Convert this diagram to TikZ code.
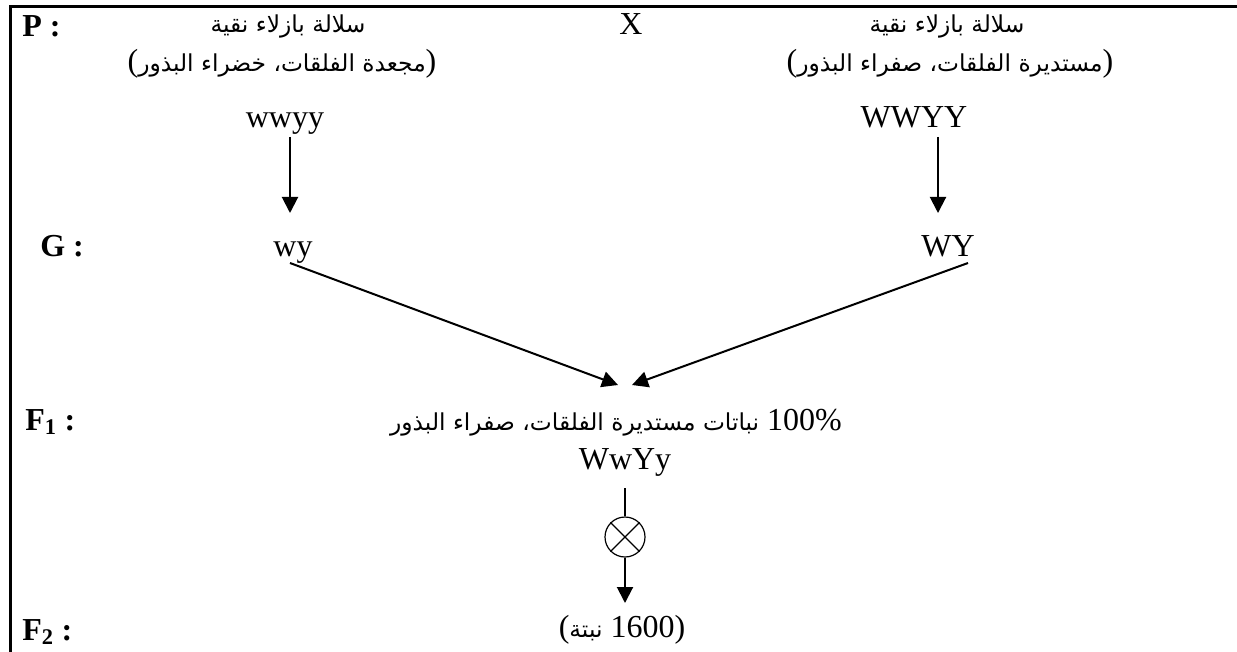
\documentclass[tikz,border=0pt]{standalone}
\usepackage{fontspec}
\setmainfont{Liberation Serif}
\newfontfamily\arabicfont[Script=Arabic]{DejaVu Sans}
\TeXXeTstate=1
\usetikzlibrary{arrows.meta}
\begin{document}
\begin{tikzpicture}[x=0.75pt,y=-0.75pt,
  lat/.style={font=\fontsize{24}{28}\selectfont, inner sep=0pt},
  ar/.style={font=\fontsize{24}{28}\selectfont, inner sep=0pt},
  lab/.style={font=\fontsize{24}{28}\selectfont\bfseries, inner sep=0pt},
  arr/.style={line width=1.5pt, -{Triangle[length=12pt,width=12pt]}},
  thin/.style={line width=0.9pt},
  frame/.style={line width=2.25pt}]
\newcommand\arw[1]{{\arabicfont\fontsize{17.5}{22}\selectfont\beginR #1\endR}}
\useasboundingbox (0,0) rectangle (1237,652);
\coordinate (fb) at (10,652);
\coordinate (fc) at (10,7);
\coordinate (fr) at (1237,7);
\draw[frame] (fb) -- (fc) -- (fr);
% P row
\node[lab, anchor=base west] (P) at (22,37) {P :};
\node[ar, anchor=base] (L1) at (288,33) {\arw{سلالة بازلاء نقية}};
\node[lat, anchor=base] (X) at (631,35) {X};
\node[ar, anchor=base] (R1) at (947,33) {\arw{سلالة بازلاء نقية}};
\node[ar, anchor=base] (L2) at (282,72) {(\arw{مجعدة الفلقات، خضراء البذور})};
\node[ar, anchor=base] (R2) at (950,72) {(\arw{مستديرة الفلقات، صفراء البذور})};
\node[lat, anchor=base] (ww) at (285,128) {wwyy};
\node[lat, anchor=base] (WW) at (914,128) {WWYY};
\coordinate (a1s) at (290,137);
\coordinate (a1e) at (290,213);
\coordinate (a2s) at (938,137);
\coordinate (a2e) at (938,213);
\draw[arr] (a1s) -- (a1e);
\draw[arr] (a2s) -- (a2e);
% G row
\node[lab, anchor=base west] (G) at (40,257) {G :};
\node[lat, anchor=base] (wy) at (293,257) {wy};
\node[lat, anchor=base] (WY) at (948,257) {WY};
\coordinate (d1s) at (290,263);
\coordinate (d1e) at (618,385);
\coordinate (d2s) at (968,263);
\coordinate (d2e) at (632,385);
\draw[arr] (d1s) -- (d1e);
\draw[arr] (d2s) -- (d2e);
% F1 row
\node[lab, anchor=base west] (F1) at (25,430) {F\textsubscript{1} :};
\node[ar, anchor=base] (F1t) at (616,430) {\arw{نباتات مستديرة الفلقات، صفراء البذور} 100\%};
\node[lat, anchor=base] (Ww) at (625,469) {WwYy};
\coordinate (v1) at (625,488);
\node[circle, draw, thin, minimum size=30pt, inner sep=0pt] (ox) at (625,537) {};
\draw[thin] (ox.north west) -- (ox.south east);
\draw[thin] (ox.north east) -- (ox.south west);
\draw[thin] (v1) -- (ox.north);
\coordinate (a3e) at (625,603);
\draw[arr] (ox.south) -- (a3e);
% F2 row
\node[lab, anchor=base west] (F2) at (22,640) {F\textsubscript{2} :};
\node[ar, anchor=base] (F2t) at (622,637) {(\arw{نبتة} 1600)};
\end{tikzpicture}
\end{document}
